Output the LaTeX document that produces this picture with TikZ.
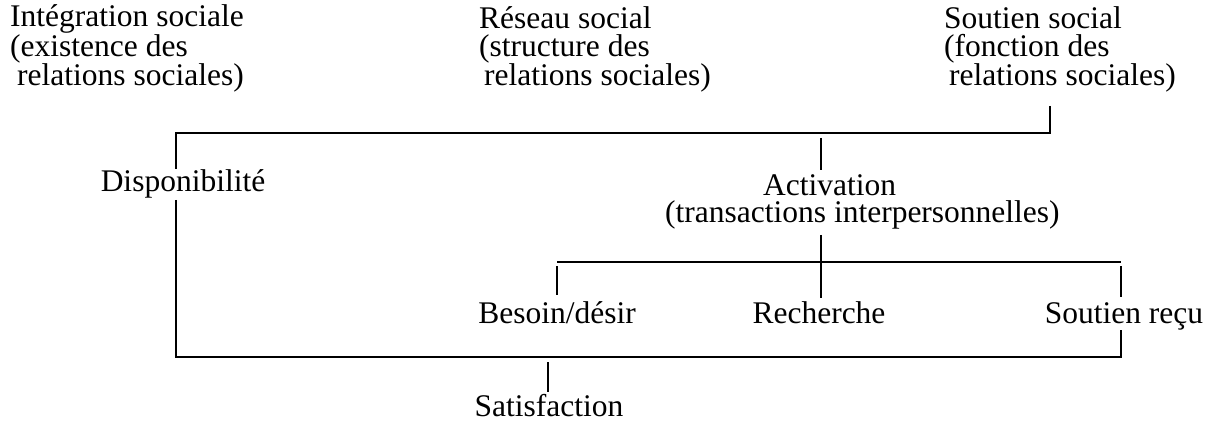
\documentclass[tikz,border=0pt]{standalone}
\usepackage{fontspec}
\setmainfont{Liberation Serif}
\begin{document}
\begin{tikzpicture}[x=1pt,y=-1pt,
  txt/.style={inner sep=0pt,font=\fontsize{31.5}{27.6}\selectfont},
  blk/.style={txt,anchor=base west,align=left},
  ctr/.style={txt,anchor=base},
  ln/.style={line width=1.7pt,line cap=butt}]
\useasboundingbox (0,0) rectangle (1205,422);
% top blocks (anchor at baseline of last line)
\node[blk] (integ) at (10,86) {Intégration sociale\\(existence des\\\hspace*{7pt}relations sociales)};
\node[blk] (reseau) at (479,86) {Réseau social\\(structure des\\\hspace*{5pt}relations sociales)};
\node[blk] (soutien) at (944,86) {Soutien social\\(fonction des\\\hspace*{5pt}relations sociales)};
% middle texts
\node[ctr] (dispo) at (183,192) {Disponibilité};
\node[blk] (act) at (665,223) {\hspace*{98pt}Activation\\(transactions interpersonnelles)};
\node[ctr] (bes) at (557,323) {Besoin/désir};
\node[ctr] (rech) at (819,323) {Recherche};
\node[ctr] (recu) at (1124,323) {Soutien reçu};
\node[ctr] (sat) at (549,416) {Satisfaction};
% coordinates
\coordinate (tR) at (1050,106);
\coordinate (tRc) at (1050,133);
\coordinate (tL) at (176,133);
\coordinate (tLd) at (176,169);
\coordinate (dL) at (176,200);
\coordinate (bL) at (176,357);
\coordinate (bR) at (1121,357);
\coordinate (bRu) at (1121,330);
\coordinate (a1) at (821,138);
\coordinate (a2) at (821,170);
\coordinate (a3) at (821,235);
\coordinate (a4) at (821,298);
\coordinate (mL) at (557,262);
\coordinate (mR) at (1121,262);
\coordinate (mL1) at (557,266);
\coordinate (mL2) at (557,295);
\coordinate (mR1) at (1121,266);
\coordinate (mR2) at (1121,297);
\coordinate (st1) at (548,362);
\coordinate (st2) at (548,392);
% lines
\draw[ln] (tR) -- (tRc) -- (tL) -- (tLd);
\draw[ln] (dL) -- (bL) -- (bR) -- (bRu);
\draw[ln] (a1) -- (a2);
\draw[ln] (a3) -- (a4);
\draw[ln] (mL) -- (mR);
\draw[ln] (mL1) -- (mL2);
\draw[ln] (mR1) -- (mR2);
\draw[ln] (st1) -- (st2);
\end{tikzpicture}
\end{document}
